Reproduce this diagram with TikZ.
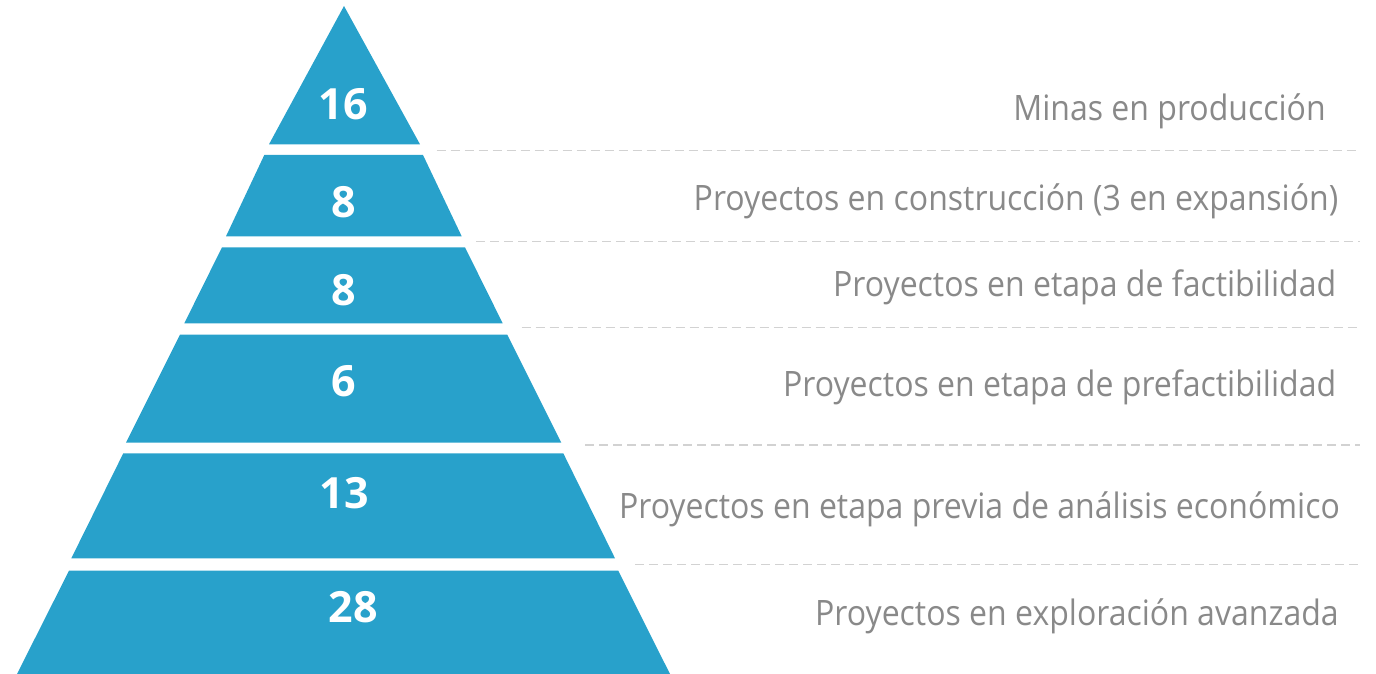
\documentclass[tikz,border=0pt]{standalone}
\usepackage{fontspec}
\newfontfamily\labfont[FakeStretch=0.915]{Open Sans}
\newfontfamily\numfont{Open Sans}
\definecolor{pyrblue}{HTML}{28A1CB}
\definecolor{labgray}{HTML}{898989}
\definecolor{dashgray}{HTML}{D2D2D2}
\tikzset{
  tier/.style={fill=pyrblue, draw=none},
  num/.style={inner sep=0pt, anchor=base, text=white, font=\numfont\bfseries\fontsize{43}{48}\selectfont},
  lab/.style={inner sep=0pt, anchor=base, text=labgray, font=\labfont\fontsize{35}{40}\selectfont},
  sep/.style={draw=dashgray, line width=1.3pt, dash pattern=on 9pt off 5pt}
}
\begin{document}
\begin{tikzpicture}[x=1pt,y=-1pt]
\useasboundingbox (0,0) rectangle (1376,674);
% pyramid tiers
\fill[tier] (344,6) -- (420,144.3) -- (269,144.3) -- cycle;
\fill[tier] (264.3,155) -- (423,155) -- (461.7,236.3) -- (226,236.3) -- cycle;
\fill[tier] (222,247.3) -- (465,247.3) -- (502.7,323.3) -- (184.3,323.3) -- cycle;
\fill[tier] (180,334.7) -- (507.3,334.7) -- (561.3,442.7) -- (126,442.7) -- cycle;
\fill[tier] (123.3,453.3) -- (563.3,453.3) -- (615,558.3) -- (71.3,558.3) -- cycle;
\fill[tier] (69,570.7) -- (618.3,570.7) -- (670,674) -- (17,674) -- cycle;
% numbers
\node[num] (n1) at (343,120) {16};
\node[num] (n2) at (343.3,217.3) {8};
\node[num] (n3) at (343.3,305) {8};
\node[num] (n4) at (343.3,396.7) {6};
\node[num] (n5) at (344,508.3) {13};
\node[num] (n6) at (353.3,622.3) {28};
% separators
\coordinate (s1a) at (436.7,150.7); \coordinate (s1b) at (1359.5,150.7);
\coordinate (s2a) at (476,241.5);   \coordinate (s2b) at (1359.5,241.5);
\coordinate (s3a) at (521.7,327.3); \coordinate (s3b) at (1359.5,327.3);
\coordinate (s4a) at (585,445);     \coordinate (s4b) at (1359.5,445);
\coordinate (s5a) at (635,564.5);   \coordinate (s5b) at (1359.5,564.5);
\draw[sep] (s1a) -- (s1b);
\draw[sep] (s2a) -- (s2b);
\draw[sep] (s3a) -- (s3b);
\draw[sep] (s4a) -- (s4b);
\draw[sep] (s5a) -- (s5b);
% labels
\node[lab] (l1) at (1169.5,120.7) {Minas en producción};
\node[lab] (l2) at (1016,210) {Proyectos en construcción (3 en expansión)};
\node[lab] (l3) at (1084.7,296.7) {Proyectos en etapa de factibilidad};
\node[lab] (l4) at (1059.7,396.7) {Proyectos en etapa de prefactibilidad};
\node[lab] (l5) at (979.5,518.3) {Proyectos en etapa previa de análisis económico};
\node[lab] (l6) at (1077,625) {Proyectos en exploración avanzada};
\end{tikzpicture}
\end{document}
